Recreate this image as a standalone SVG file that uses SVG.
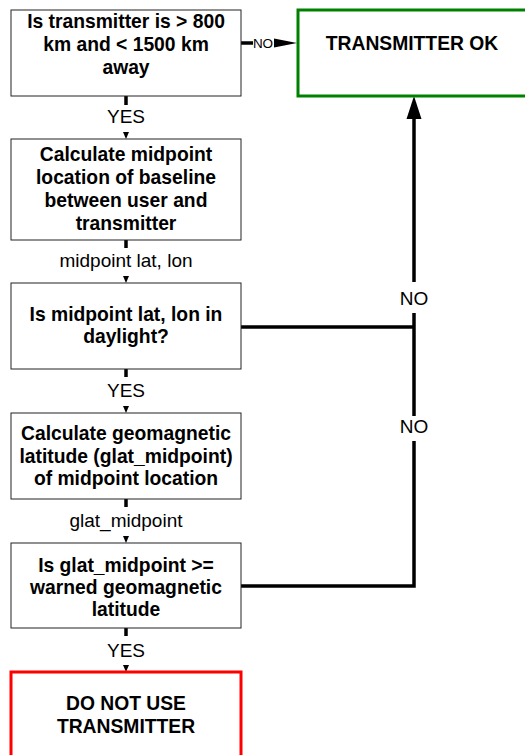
<svg xmlns="http://www.w3.org/2000/svg" width="525" height="755" viewBox="0 0 525 755">
<style>
.box{fill:#fff;stroke:#222;stroke-width:1}
.t{font-family:"Liberation Sans",Arial,sans-serif;font-weight:bold;font-size:19.3px;text-anchor:middle;fill:#000}
.l{font-family:"Liberation Sans",Arial,sans-serif;font-size:19px;text-anchor:middle;fill:#000}
.c{stroke:#000;stroke-width:3.5;fill:none}
.h{fill:#000}
</style>
<rect width="525" height="755" fill="#fff"/>
<g id="connectors">
<line class="c" x1="126" y1="96" x2="126" y2="105"/>
<text class="l" x="126" y="123">YES</text>
<polygon class="h" points="123,132 129,132 126,139"/>
<line class="c" x1="126" y1="240" x2="126" y2="248"/>
<text class="l" x="126" y="267">midpoint lat, lon</text>
<polygon class="h" points="123,276 129,276 126,283"/>
<line class="c" x1="126" y1="369" x2="126" y2="377"/>
<text class="l" x="126" y="397">YES</text>
<polygon class="h" points="123,406 129,406 126,413"/>
<line class="c" x1="126" y1="499" x2="126" y2="507"/>
<text class="l" x="126" y="527">glat_midpoint</text>
<polygon class="h" points="123,536 129,536 126,543"/>
<line class="c" x1="126" y1="628" x2="126" y2="636"/>
<text class="l" x="126" y="657">YES</text>
<polygon class="h" points="123,665 129,665 126,672"/>
<line class="c" x1="241" y1="43" x2="253" y2="43"/>
<text class="l" x="263" y="48" style="font-size:13.5px">NO</text>
<polygon class="h" points="274,38.5 274,47.5 297,43"/>
<polyline class="c" points="241,327 414,327"/>
<polyline class="c" points="241,586 414,586 414,441"/>
<line class="c" x1="414" y1="416" x2="414" y2="313"/>
<line class="c" x1="414" y1="282" x2="414" y2="117"/>
<polygon class="h" points="406.5,119 421.5,119 414,96"/>
<text class="l" x="414" y="305">NO</text>
<text class="l" x="414" y="433">NO</text>
</g>
<g id="n1"><rect class="box" x="11" y="10" width="230" height="86"/>
<text class="t" x="126" y="28">Is transmitter is &gt; 800</text>
<text class="t" x="126" y="51">km and &lt; 1500 km</text>
<text class="t" x="126" y="74">away</text></g>
<g id="ok"><rect x="298" y="10" width="240" height="86" fill="#fff" stroke="#008000" stroke-width="3"/>
<text class="t" x="412" y="50">TRANSMITTER OK</text></g>
<g id="n2"><rect class="box" x="11" y="139" width="230" height="101"/>
<text class="t" x="126" y="161">Calculate midpoint</text>
<text class="t" x="126" y="184">location of baseline</text>
<text class="t" x="126" y="207">between user and</text>
<text class="t" x="126" y="230">transmitter</text></g>
<g id="n3"><rect class="box" x="11" y="283" width="230" height="86"/>
<text class="t" x="126" y="321">Is midpoint lat, lon in</text>
<text class="t" x="126" y="343">daylight?</text></g>
<g id="n4"><rect class="box" x="11" y="413" width="230" height="86"/>
<text class="t" x="126" y="440">Calculate geomagnetic</text>
<text class="t" x="126" y="463">latitude (glat_midpoint)</text>
<text class="t" x="126" y="485">of midpoint location</text></g>
<g id="n5"><rect class="box" x="11" y="543" width="230" height="85"/>
<text class="t" x="126" y="572">Is glat_midpoint &gt;=</text>
<text class="t" x="126" y="594">warned geomagnetic</text>
<text class="t" x="126" y="616">latitude</text></g>
<g id="stop"><rect x="11" y="672" width="230" height="100" fill="#fff" stroke="#ff0000" stroke-width="3"/>
<text class="t" x="126" y="710">DO NOT USE</text>
<text class="t" x="126" y="733">TRANSMITTER</text></g>
</svg>
